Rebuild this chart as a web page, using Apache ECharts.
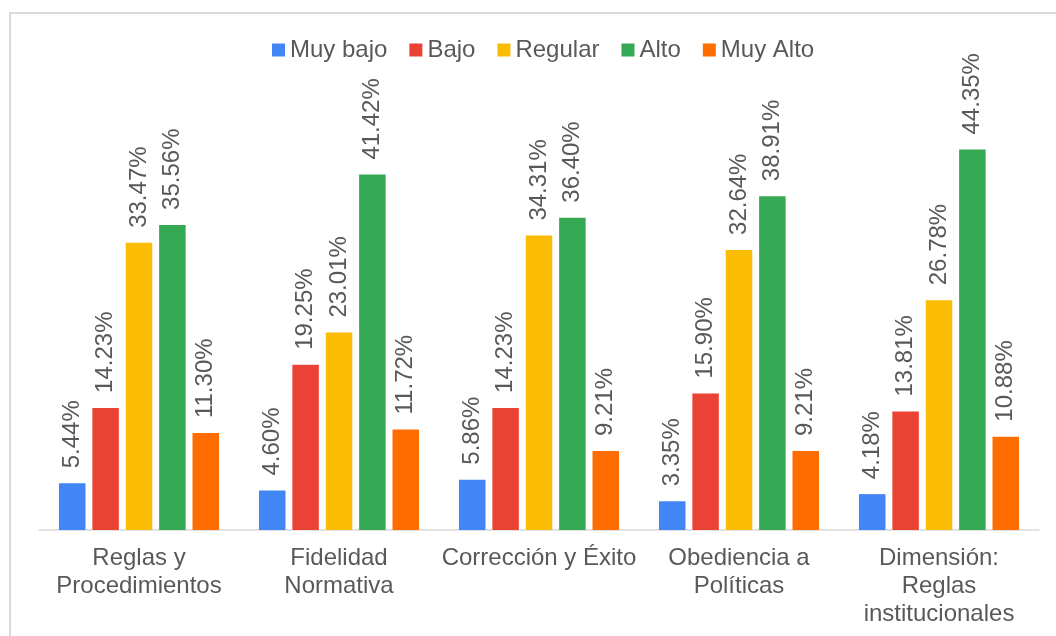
<!DOCTYPE html>
<html>
<head>
<meta charset="utf-8">
<script src="https://cdn.jsdelivr.net/npm/echarts@6/dist/echarts.min.js"></script>
<style>
  html, body { margin: 0; padding: 0; background: #ffffff; }
  #chart { width: 1056px; height: 636px; }
</style>
</head>
<body>
<div id="chart"></div>
<script>
// Dimension categories
const categories = [
  'Reglas y\nProcedimientos',
  'Fidelidad\nNormativa',
  'Corrección y Éxito',
  'Obediencia a\nPolíticas',
  'Dimensión:\nReglas\ninstitucionales'
];

// Percentages per level
const muyBajo = [5.44, 4.60, 5.86, 3.35, 4.18];
const bajo    = [14.23, 19.25, 14.23, 15.90, 13.81];
const regular = [33.47, 23.01, 34.31, 32.64, 26.78];
const alto    = [35.56, 41.42, 36.40, 38.91, 44.35];
const muyAlto = [11.30, 11.72, 9.21, 9.21, 10.88];

const seriesNames = ['Muy bajo', 'Bajo', 'Regular', 'Alto', 'Muy Alto'];
const seriesData = [muyBajo, bajo, regular, alto, muyAlto];
const colors = ['#4285F4', '#EA4335', '#FBBC04', '#34A853', '#FF6D01'];

const FONT = '"Liberation Sans", Arial, Helvetica, sans-serif';
const TEXT = '#595959';
const FS = 24;

const chart = echarts.init(document.getElementById('chart'), null, { renderer: 'canvas' });

chart.setOption({
  backgroundColor: '#ffffff',
  animation: false,
  color: colors,
  textStyle: { fontFamily: FONT },
  graphic: [{
    type: 'rect',
    shape: { x: 10, y: 13, width: 1080, height: 660 },
    style: { fill: 'none', stroke: '#d9d9d9', lineWidth: 2 },
    silent: true,
    z: 0
  }],
  legend: {
    top: 33,
    left: 267,
    itemWidth: 13,
    itemHeight: 13,
    itemGap: 22,
    icon: 'rect',
    textStyle: { fontSize: FS, color: TEXT, fontFamily: FONT },
    data: seriesNames
  },
  grid: { left: 39, right: 17, top: 101, bottom: 106, containLabel: false },
  xAxis: {
    type: 'category',
    data: categories,
    axisLine: { show: true, lineStyle: { color: '#d9d9d9', width: 1.5 } },
    axisTick: { show: false },
    axisLabel: {
      interval: 0,
      margin: 14,
      fontSize: FS,
      lineHeight: 28,
      color: TEXT,
      fontFamily: FONT,
      align: 'center'
    }
  },
  yAxis: {
    type: 'value',
    min: 0,
    max: 50,
    show: false,
    splitLine: { show: false }
  },
  series: seriesNames.map((name, i) => ({
    name,
    type: 'bar',
    data: seriesData[i],
    barGap: '26%',
    barCategoryGap: '20%',
    itemStyle: { color: colors[i] },
    label: {
      show: true,
      position: 'top',
      rotate: 90,
      align: 'left',
      verticalAlign: 'middle',
      distance: 15,
      fontSize: FS,
      color: TEXT,
      fontFamily: FONT,
      formatter: p => p.value.toFixed(2) + '%'
    }
  }))
});
</script>
</body>
</html>
